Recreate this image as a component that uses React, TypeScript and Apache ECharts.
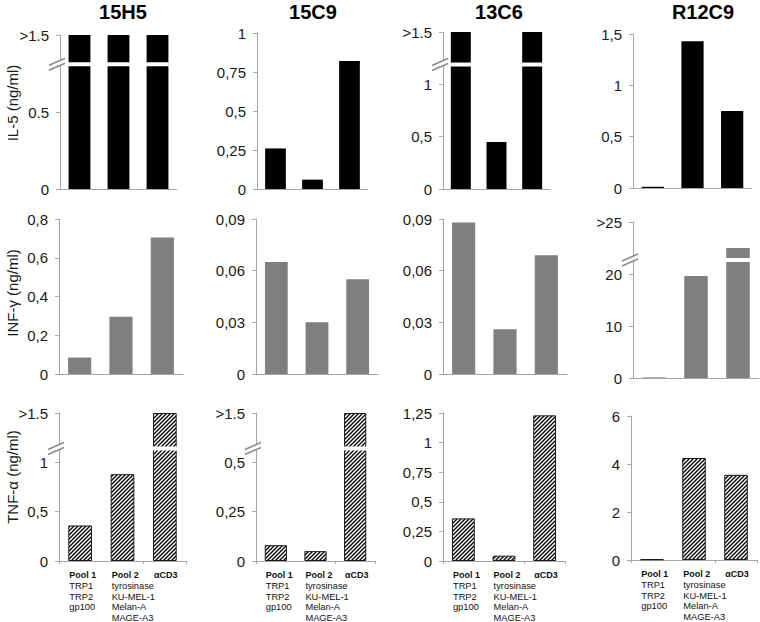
import React, { useEffect, useRef } from "react";
import * as echarts from "echarts";

// ---------- data ----------
const CLONES = ["15H5", "15C9", "13C6", "R12C9"];
const CATEGORIES = ["Pool 1", "Pool 2", "αCD3"];
const CATEGORY_DETAILS = [
  ["TRP1", "TRP2", "gp100"],
  ["tyrosinase", "KU-MEL-1", "Melan-A", "MAGE-A3"],
  [],
];
const CYTOKINES = ["IL-5 (ng/ml)", "INF-γ (ng/ml)", "TNF-α (ng/ml)"];

// values above the axis range (">1.5") are stored at 1.5 and drawn at the top of the broken axis
const IL5_15H5 = [1.5, 1.5, 1.5];
const IL5_15C9 = [0.26, 0.06, 0.82];
const IL5_13C6 = [1.5, 0.45, 1.5];
const IL5_R12C9 = [0.012, 1.43, 0.75];

const INF_15H5 = [0.085, 0.295, 0.705];
const INF_15C9 = [0.065, 0.03, 0.055];
const INF_13C6 = [0.088, 0.026, 0.069];
const INF_R12C9 = [0.12, 19.6, 25];

const TNF_15H5 = [0.36, 0.88, 1.5];
const TNF_15C9 = [0.08, 0.05, 1.5];
const TNF_13C6 = [0.36, 0.045, 1.23];
const TNF_R12C9 = [0.03, 4.25, 3.55];

// tick labels
const IL5_TICKS = [
  ["0", "0.5", ">1.5"],
  ["0", "0,25", "0,5", "0,75", "1"],
  ["0", "0,5", "1", ">1.5"],
  ["0", "0,5", "1", "1,5"],
];
const INF_TICKS = [
  ["0", "0,2", "0,4", "0,6", "0,8"],
  ["0", "0,03", "0,06", "0,09"],
  ["0", "0,03", "0,06", "0,09"],
  ["0", "10", "20", ">25"],
];
const TNF_TICKS = [
  ["0", "0,5", "1", ">1.5"],
  ["0", "0,25", "0,5", ">1.5"],
  ["0", "0,25", "0,5", "0,75", "1", "1,25"],
  ["0", "2", "4", "6"],
];
const IL5_INTERVALS = [0.5, 0.25, 0.5, 0.5];
const INF_INTERVALS = [0.2, 0.03, 0.03, 10];
const TNF_INTERVALS = [0.5, 0.25, 0.25, 2];
// axis value where the axis is broken (null = no break)
const IL5_BREAKS = [0.81, null, 1.19, null];
const INF_BREAKS = [null, null, null, 22.7];
const TNF_BREAKS = [1.14, 0.57, null, null];

// ---------- layout ----------
const GRIDS = [
  [[60, 35, 117, 154], [257, 33, 111, 156], [443, 32, 107, 157], [633, 34, 119, 154]],
  [[59, 219, 124, 155], [256, 219, 122, 155], [443, 219, 124, 155], [633, 222, 126, 156]],
  [[59, 413, 127, 148], [256, 413, 119, 148], [443, 413, 122, 148], [631, 416, 126, 144]],
];
const TITLE_X = [123, 313, 499, 703];
const TITLE_Y = 12;
const YTITLE_POS = [[12, 103], [12, 293], [12, 477]];
const BAR_RATIO = 0.56;
const FONT = "'Liberation Sans', Arial, Helvetica, sans-serif";
const AXIS_COLOR = "#a6a6a6";
const TEXT_COLOR = "#1a1a1a";

function makeHatch() {
  const s = 4;
  const c = document.createElement("canvas");
  c.width = s;
  c.height = s;
  const ctx = c.getContext("2d")!;
  ctx.fillStyle = "#ffffff";
  ctx.fillRect(0, 0, s, s);
  ctx.strokeStyle = "#000000";
  ctx.lineWidth = 1.3;
  ctx.beginPath();
  ctx.moveTo(0, s);
  ctx.lineTo(s, 0);
  ctx.moveTo(-1, 1);
  ctx.lineTo(1, -1);
  ctx.moveTo(s - 1, s + 1);
  ctx.lineTo(s + 1, s - 1);
  ctx.stroke();
  return c;
}

export default function App() {
  const ref = useRef<HTMLDivElement>(null);

  useEffect(() => {
    if (!ref.current) return;
    const chart = echarts.init(ref.current, null, { renderer: "svg" });
    const hatch = makeHatch();

    const rows = [
      {
        values: [IL5_15H5, IL5_15C9, IL5_13C6, IL5_R12C9],
        ticks: IL5_TICKS,
        intervals: IL5_INTERVALS,
        breaks: IL5_BREAKS,
        itemStyle: { color: "#000000" },
      },
      {
        values: [INF_15H5, INF_15C9, INF_13C6, INF_R12C9],
        ticks: INF_TICKS,
        intervals: INF_INTERVALS,
        breaks: INF_BREAKS,
        itemStyle: { color: "#7f7f7f" },
      },
      {
        values: [TNF_15H5, TNF_15C9, TNF_13C6, TNF_R12C9],
        ticks: TNF_TICKS,
        intervals: TNF_INTERVALS,
        breaks: TNF_BREAKS,
        itemStyle: {
          color: { image: hatch, repeat: "repeat" },
          borderColor: "#1a1a1a",
          borderWidth: 1,
        },
      },
    ];

    const grid: any[] = [];
    const xAxis: any[] = [];
    const yAxis: any[] = [];
    const series: any[] = [];

    rows.forEach((row, r) => {
      for (let c = 0; c < 4; c++) {
        const k = r * 4 + c;
        const [left, top, width, height] = GRIDS[r][c];
        const interval = row.intervals[c];
        const ticks = row.ticks[c];
        const max = interval * (ticks.length - 1);
        grid.push({ left, top, width, height, outerBoundsMode: "none", containLabel: false });
        xAxis.push({
          type: "category",
          gridIndex: k,
          data: CATEGORIES,
          axisLine: { show: true, lineStyle: { color: AXIS_COLOR, width: 1 } },
          axisTick: { show: r === 2, length: 3, lineStyle: { color: AXIS_COLOR } },
          axisLabel: { show: false },
          splitLine: { show: false },
        });
        yAxis.push({
          type: "value",
          gridIndex: k,
          min: 0,
          max,
          interval,
          axisLine: { show: true, lineStyle: { color: AXIS_COLOR, width: 1 } },
          axisTick: { show: true, length: 4, lineStyle: { color: AXIS_COLOR } },
          splitLine: { show: false },
          axisLabel: {
            show: true,
            color: TEXT_COLOR,
            fontSize: 15,
            fontFamily: FONT,
            margin: 11,
            showMinLabel: true,
            showMaxLabel: true,
            hideOverlap: false,
            formatter: (v: number) => {
              const i = Math.round(v / interval);
              return ticks[i] ?? "";
            },
          },
        });
        series.push({
          type: "bar",
          xAxisIndex: k,
          yAxisIndex: k,
          data: row.values[c].map((v) => Math.min(v, max)),
          barWidth: `${BAR_RATIO * 100}%`,
          itemStyle: row.itemStyle,
          silent: true,
        });
      }
    });

    chart.setOption({
      animation: false,
      textStyle: { fontFamily: FONT },
      grid,
      xAxis,
      yAxis,
      series,
    });

    const graphic: any[] = [];

    CLONES.forEach((name, c) => {
      graphic.push({
        type: "text",
        x: TITLE_X[c],
        y: TITLE_Y,
        z: 100,
        style: {
          text: name,
          fontSize: 20,
          fontWeight: "bold",
          fontFamily: FONT,
          fill: "#000000",
          align: "center",
          verticalAlign: "middle",
        },
      });
    });

    CYTOKINES.forEach((name, r) => {
      graphic.push({
        type: "text",
        x: YTITLE_POS[r][0],
        y: YTITLE_POS[r][1],
        rotation: Math.PI / 2,
        z: 100,
        style: {
          text: name,
          fontSize: 15,
          fontFamily: FONT,
          fill: TEXT_COLOR,
          align: "center",
          verticalAlign: "middle",
        },
      });
    });

    // axis breaks
    rows.forEach((row, r) => {
      for (let c = 0; c < 4; c++) {
        const b = row.breaks[c];
        if (b == null) continue;
        const k = r * 4 + c;
        const [left, , width] = GRIDS[r][c];
        const yb = chart.convertToPixel({ yAxisIndex: k }, b) as number;
        graphic.push({
          type: "rect",
          z: 100,
          shape: { x: left + 1, y: yb - 2, width: width, height: 4 },
          style: { fill: "#ffffff" },
        });
        const cx = left - 3;
        const cy = yb;
        graphic.push({
          type: "polygon",
          z: 101,
          shape: {
            points: [
              [cx - 8, cy + 1],
              [cx + 8, cy - 6],
              [cx + 8, cy - 1],
              [cx - 8, cy + 6],
            ],
          },
          style: { fill: "#ffffff" },
        });
        graphic.push({
          type: "line",
          z: 102,
          shape: { x1: cx - 8, y1: cy + 1, x2: cx + 8, y2: cy - 6 },
          style: { stroke: "#8c8c8c", lineWidth: 1.6 },
        });
        graphic.push({
          type: "line",
          z: 102,
          shape: { x1: cx - 8, y1: cy + 6, x2: cx + 8, y2: cy - 1 },
          style: { stroke: "#8c8c8c", lineWidth: 1.6 },
        });
      }
    });

    // category labels under bottom row
    for (let c = 0; c < 4; c++) {
      const k = 8 + c;
      const [, top, width, height] = GRIDS[2][c];
      const band = width / CATEGORIES.length;
      const barPx = band * BAR_RATIO;
      CATEGORIES.forEach((cat, i) => {
        const cxp = chart.convertToPixel({ xAxisIndex: k }, i) as number;
        const lines = [`{b|${cat}}`, ...CATEGORY_DETAILS[i].map((d) => `{n|${d}}`)];
        graphic.push({
          type: "text",
          x: cxp - barPx / 2 + 1,
          y: top + height + 8,
          z: 100,
          style: {
            text: lines.join("\n"),
            align: "left",
            verticalAlign: "top",
            fontFamily: FONT,
            fill: "#111111",
            rich: {
              b: { fontSize: 9, fontWeight: "bold", lineHeight: 12, fontFamily: FONT, fill: "#111111" },
              n: { fontSize: 9.3, lineHeight: 10.5, fontFamily: FONT, fill: "#111111" },
            },
          },
        });
      });
    }

    chart.setOption({ graphic });

    return () => chart.dispose();
  }, []);

  return (
    <div
      ref={ref}
      style={{ position: "absolute", left: 0, top: 0, width: 760, height: 622, background: "#ffffff" }}
    />
  );
}
